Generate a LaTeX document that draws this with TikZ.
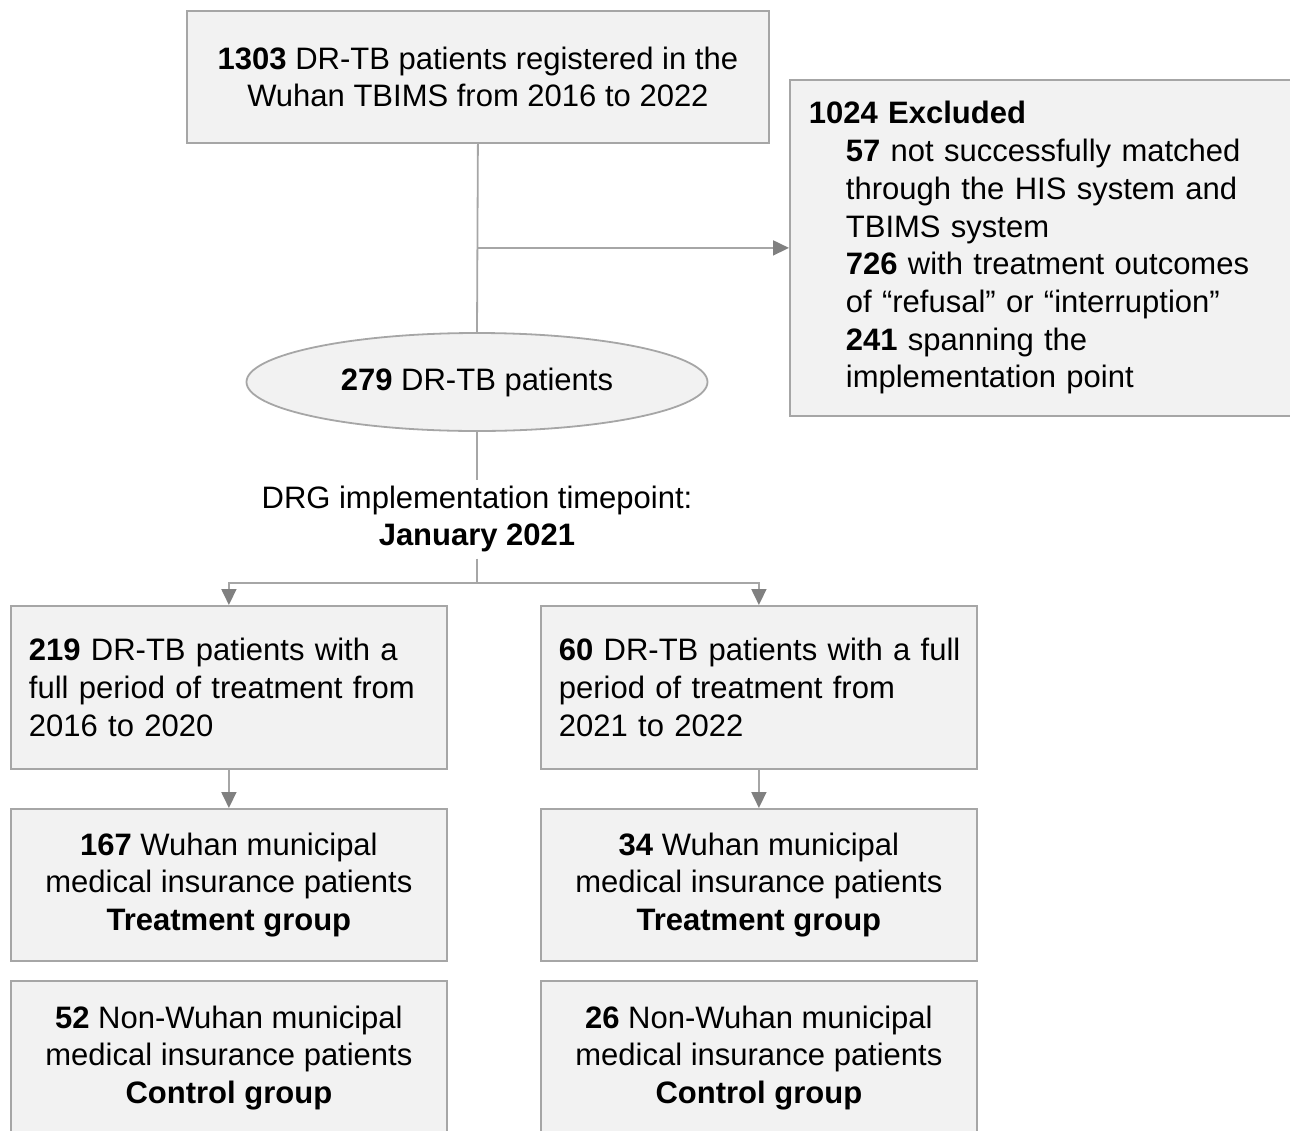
\documentclass[tikz,border=0pt]{standalone}
\usepackage{fontspec}
\setmainfont{Liberation Sans}
\usetikzlibrary{shapes.geometric,arrows.meta}
\definecolor{boxfill}{HTML}{F2F2F2}
\definecolor{boxline}{HTML}{A6A6A6}
\definecolor{tipgray}{HTML}{808080}

\begin{document}
\begin{tikzpicture}[x=1pt,y=-1pt]
        \tikzstyle{txt} = [font=\fontsize{31}{37.7}\selectfont]
        \tikzstyle{box} = [txt,draw=boxline,fill=boxfill,line width=1.8pt,inner sep=0pt]
        \tikzstyle{cohort} = [box,anchor=north west,minimum height=163pt,inner xsep=18pt,text width=400pt,align=left]
        \tikzstyle{group} = [box,anchor=north west,minimum width=436pt,align=center]
        \tikzstyle{arrow} = [draw=boxline,line width=1.8pt,-{Triangle[length=16pt,width=15pt,color=tipgray]}]
        \clip (0,0) rectangle (1290,1130);

        \node[box,anchor=north west,minimum width=582pt,minimum height=132pt,align=center] (reg) at (186,10)
          {\textbf{1303} DR-TB patients registered in the\\Wuhan TBIMS from 2016 to 2022};
        \node[box,anchor=north west,minimum height=336pt,inner xsep=19pt,text width=480pt,align=left] (excl) at (789,79)
          {\textbf{1024 Excluded}\\
           \hspace*{37pt}\textbf{57} not successfully matched\\
           \hspace*{37pt}through the HIS system and\\
           \hspace*{37pt}TBIMS system\\
           \hspace*{37pt}\textbf{726} with treatment outcomes\\
           \hspace*{37pt}of “refusal” or “interruption”\\
           \hspace*{37pt}\textbf{241} spanning the\\
           \hspace*{37pt}implementation point};
        \node[box,ellipse,minimum width=461pt,minimum height=98pt] (pool) at (477,382) {\textbf{279} DR-TB patients};
        \node[txt,align=center,inner sep=6pt] (drg) at (477,519) {DRG implementation timepoint:\\\textbf{January 2021}};

        \node[cohort] (pre) at (10,605) {\mbox{\textbf{219} DR-TB patients with a}\\\mbox{full period of treatment from}\\2016 to 2020};
        \node[cohort] (post) at (540,605) {\mbox{\textbf{60} DR-TB patients with a full}\\\mbox{period of treatment from}\\2021 to 2022};

        \foreach \l/\x/\y/\h/\t in {preT/10/808/152/{\textbf{167} Wuhan municipal\\medical insurance patients\\\textbf{Treatment group}},
          postT/540/808/152/{\textbf{34} Wuhan municipal\\medical insurance patients\\\textbf{Treatment group}},
          preC/10/980/154/{\textbf{52} Non-Wuhan municipal\\medical insurance patients\\\textbf{Control group}},
          postC/540/980/154/{\textbf{26} Non-Wuhan municipal\\medical insurance patients\\\textbf{Control group}}} {
          \node[group,minimum height=\h pt] (\l) at (\x,\y) {\t};
        }

        \coordinate (joint) at (reg.south |- excl.west);
        \coordinate (split) at (477,583);
        \draw[boxline,line width=1.8pt] (reg.south) -- (pool.north);
        \draw[arrow] (joint) -- (excl.west);
        \draw[boxline,line width=1.8pt] (pool.south) -- (drg.north);
        \draw[boxline,line width=1.8pt] (drg.south) -- (split);
        \foreach \a in {pre, post} {
          \draw[arrow] (split) -| (\a.north);
        }
        \foreach \a/\b in {pre/preT, post/postT} {
          \draw[arrow] (\a) -- (\b);
        }
      \end{tikzpicture}
\end{document}
